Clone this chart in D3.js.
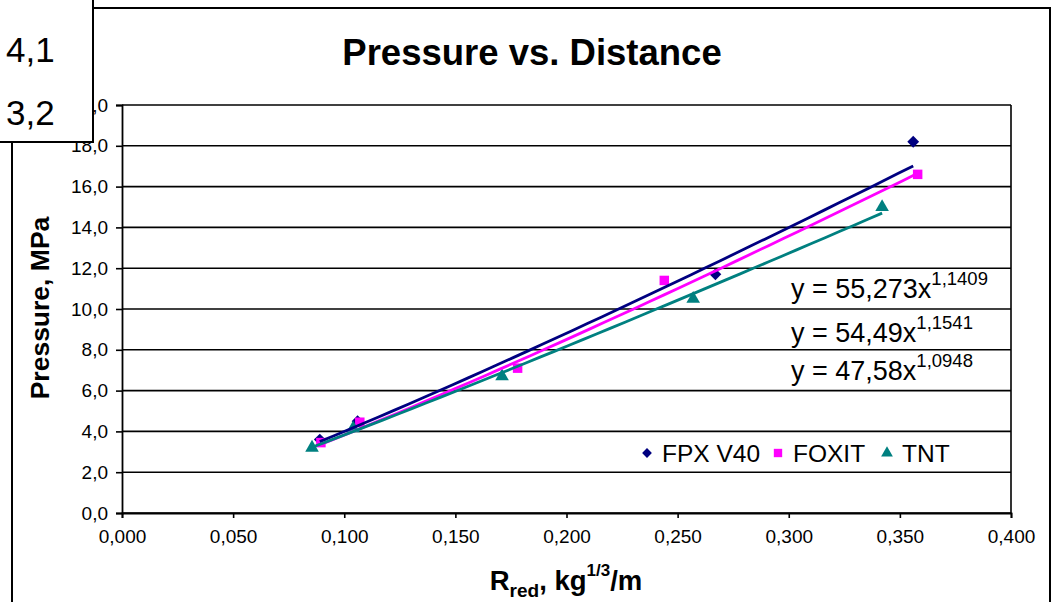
<!DOCTYPE html>
<html>
<head>
<meta charset="utf-8">
<script src="https://cdn.jsdelivr.net/npm/d3@7"></script>
<style>
  body { margin: 0; background: #fff; }
  text { font-family: "Liberation Sans", Arial, sans-serif; }
</style>
</head>
<body>
<script>
// chart data
const seriesNames = ["FPX V40", "FOXIT", "TNT"];
const seriesColors = ["#000080", "#ff00ff", "#008080"];
const seriesShapes = ["diamond", "square", "triangle"];

const fpxX = [0.089, 0.106, 0.267, 0.356];
const fpxY = [3.6, 4.5, 11.7, 18.2];
const foxitX = [0.0895, 0.107, 0.178, 0.244, 0.358];
const foxitY = [3.45, 4.45, 7.1, 11.4, 16.6];
const tntX = [0.0855, 0.104, 0.171, 0.257, 0.342];
const tntY = [3.2, 4.15, 6.7, 10.5, 15.0];

// power trendlines y = a * x^b as printed on the chart
const trendA = [55.273, 54.49, 47.58];
const trendB = [1.1409, 1.1541, 1.0948];
const trendAText = ["55,273", "54,49", "47,58"];
const trendBText = ["1,1409", "1,1541", "1,0948"];

const xTicks = [0, 0.05, 0.1, 0.15, 0.2, 0.25, 0.3, 0.35, 0.4];
const yTicks = [0, 2, 4, 6, 8, 10, 12, 14, 16, 18, 20];
const boxLabels = ["4,1", "3,2"];

const W = 1053, H = 602;
const plotL = 122, plotR = 1011, plotT = 105, plotB = 513;

const svg = d3.select("body").append("svg").attr("width", W).attr("height", H);

const x = d3.scaleLinear().domain([0, 0.4]).range([plotL, plotR]);
const y = d3.scaleLinear().domain([0, 20]).range([plotB, plotT]);
const comma = (d, n) => d.toFixed(n).replace(".", ",");

// chart area border
svg.append("rect").attr("x", 12).attr("y", 8).attr("width", 1038).attr("height", 620)
  .attr("fill", "#fff").attr("stroke", "#000").attr("stroke-width", 2);

// title
svg.append("text").attr("x", 532).attr("y", 65).attr("text-anchor", "middle")
  .attr("font-size", "36.5px").attr("font-weight", "bold").text("Pressure vs. Distance");

// gridlines
svg.append("g").selectAll("line").data(yTicks).enter().append("line")
  .attr("x1", plotL).attr("x2", plotR)
  .attr("y1", d => y(d)).attr("y2", d => y(d))
  .attr("stroke", "#000").attr("stroke-width", 1.6);

// plot border right
svg.append("line").attr("x1", plotR).attr("x2", plotR).attr("y1", plotT).attr("y2", plotB)
  .attr("stroke", "#000").attr("stroke-width", 1.6);

// axes
const yAxis = svg.append("g").attr("transform", `translate(${plotL},0)`)
  .call(d3.axisLeft(y).tickValues(yTicks).tickSize(6).tickPadding(8).tickFormat(d => comma(d, 1)));
const xAxis = svg.append("g").attr("transform", `translate(0,${plotB})`)
  .call(d3.axisBottom(x).tickValues(xTicks).tickSize(5).tickPadding(12).tickFormat(d => comma(d, 3)));
[yAxis, xAxis].forEach(a => {
  a.selectAll("path").attr("stroke", "#000").attr("stroke-width", 1.8);
  a.selectAll("line").attr("stroke", "#000").attr("stroke-width", 1.6);
  a.selectAll("text").attr("font-size", "19px").attr("fill", "#000")
    .attr("font-family", "Liberation Sans, Arial, sans-serif");
});

// axis titles
svg.append("text").attr("transform", "translate(49,308) rotate(-90)")
  .attr("text-anchor", "middle").attr("font-size", "26.5px").attr("font-weight", "bold")
  .text("Pressure, MPa");

const xt = svg.append("text").attr("x", 566).attr("y", 590).attr("text-anchor", "middle")
  .attr("font-size", "27.5px").attr("font-weight", "bold");
xt.append("tspan").text("R");
xt.append("tspan").attr("font-size", "19px").attr("dy", 7).text("red");
xt.append("tspan").attr("dy", -7).text(", kg");
xt.append("tspan").attr("font-size", "17px").attr("dy", -14).text("1/3");
xt.append("tspan").attr("dy", 14).text("/m");

// markers (diamond = rotated square)
const symbolOf = {
  diamond: d3.symbol().type(d3.symbolSquare).size(70),
  square: d3.symbol().type(d3.symbolSquare).size(90),
  triangle: d3.symbol().type(d3.symbolTriangle).size(80)
};
const legendSym = {
  diamond: d3.symbol().type(d3.symbolSquare).size(48),
  square: d3.symbol().type(d3.symbolSquare).size(70),
  triangle: d3.symbol().type(d3.symbolTriangle).size(60)
};
const rot = s => (s === "diamond" ? " rotate(45)" : "");

const allX = [fpxX, foxitX, tntX];
const allY = [fpxY, foxitY, tntY];

seriesNames.forEach((name, i) => {
  const pts = allX[i].map((v, j) => [v, allY[i][j]]);
  svg.append("g").selectAll("path").data(pts).enter().append("path")
    .attr("d", symbolOf[seriesShapes[i]])
    .attr("transform", d => `translate(${x(d[0])},${y(d[1])})` + rot(seriesShapes[i]))
    .attr("fill", seriesColors[i]);
});

// trendlines over the markers
const line = d3.line().x(d => x(d[0])).y(d => y(d[1]));
seriesNames.forEach((name, i) => {
  const x0 = d3.min(allX[i]), x1 = d3.max(allX[i]);
  const pts = d3.range(0, 41).map(k => {
    const xv = x0 + (x1 - x0) * k / 40;
    return [xv, trendA[i] * Math.pow(xv, trendB[i])];
  });
  svg.append("path").datum(pts).attr("d", line)
    .attr("fill", "none").attr("stroke", seriesColors[i]).attr("stroke-width", 2.8);
});

// trendline equations
const eqBase = [298, 342, 380];
trendA.forEach((a, i) => {
  const t = svg.append("text").attr("x", 791).attr("y", eqBase[i]).attr("font-size", "27px");
  t.append("tspan").text(`y = ${trendAText[i]}x`);
  t.append("tspan").attr("font-size", "18.5px").attr("dy", -13).text(trendBText[i]);
});

// legend
const lg = svg.append("g");
lg.append("rect").attr("x", 628).attr("y", 434).attr("width", 330).attr("height", 36).attr("fill", "#fff");
const legendX = [647, 778, 887];
seriesNames.forEach((name, i) => {
  lg.append("path").attr("d", legendSym[seriesShapes[i]])
    .attr("transform", `translate(${legendX[i]},453)` + rot(seriesShapes[i])).attr("fill", seriesColors[i]);
  lg.append("text").attr("x", legendX[i] + 15).attr("y", 462).attr("font-size", "24.5px").text(name);
});

// overlaid box in the top-left corner
svg.append("rect").attr("x", -4).attr("y", -4).attr("width", 97).attr("height", 146)
  .attr("fill", "#fff").attr("stroke", "#000").attr("stroke-width", 2);
svg.append("g").selectAll("text").data(boxLabels).enter().append("text")
  .attr("x", 6).attr("y", (d, i) => 62 + i * 63).attr("font-size", "35px").text(d => d);
</script>
</body>
</html>
